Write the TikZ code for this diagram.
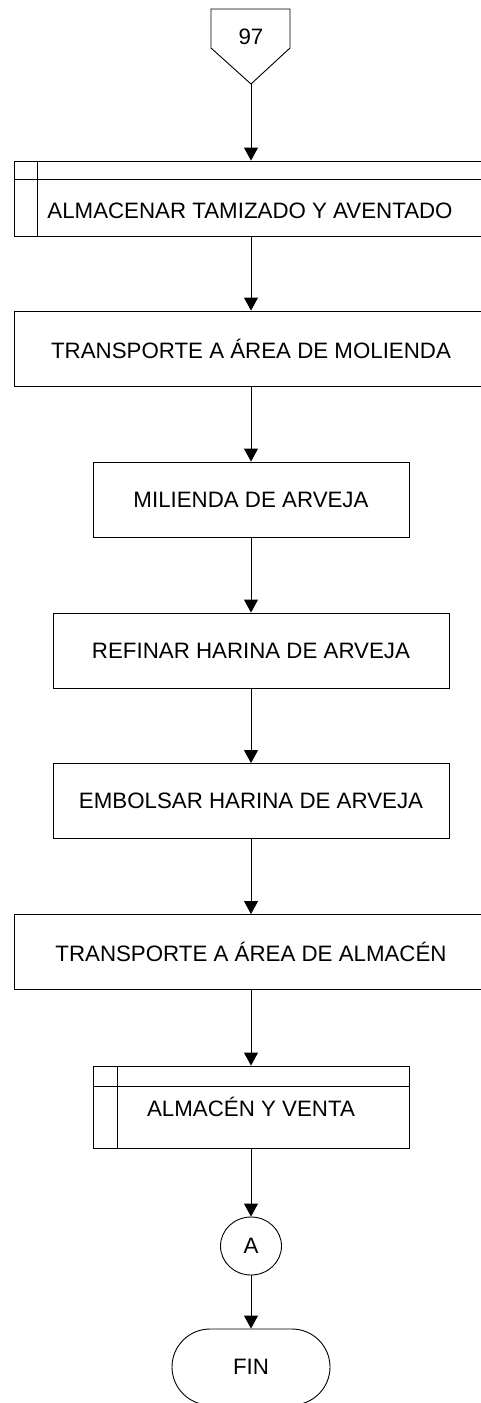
\documentclass[tikz,border=0pt]{standalone}
\usepackage{fontspec}
\setmainfont{Liberation Sans}
\usetikzlibrary{arrows.meta,shapes.geometric}
\begin{document}
\begin{tikzpicture}[x=1pt,y=-1pt,
  every node/.style={font=\fontsize{22.3}{26}\selectfont, inner sep=0pt},
  procbox/.style={draw, line width=0.9pt, rectangle},
  flow/.style={draw, line width=0.9pt, -{Triangle[width=14pt,length=13pt]}},
  conn/.style={draw, line width=0.9pt, ellipse, minimum width=61pt, minimum height=58pt},
  term/.style={draw, line width=0.9pt, rectangle, rounded corners=38pt, minimum width=158pt, minimum height=76pt}
]
\useasboundingbox (0,0) rectangle (481,1403);
\clip (0,0) rectangle (481,1403);
% off-page connector
\draw[line width=0.9pt] (211,9) -- (290,9) -- (290,48) -- (251,84) -- (211,48) -- cycle;
\coordinate (p97) at (251,84);
\node (t97) at (251,37) {97};
% box 1
\node[procbox, minimum width=474pt, minimum height=75pt] (b1) at (251,198.5) {};
\draw[line width=0.9pt] (b1.north west |- 0,179) -- (b1.north east |- 0,179);
\draw[line width=0.9pt] (37.7,0 |- b1.north) -- (37.7,0 |- b1.south);
\node (l1) at (250,211) {ALMACENAR TAMIZADO Y AVENTADO};
% box 2
\node[procbox, minimum width=474pt, minimum height=75pt] (b2) at (251,348.5) {TRANSPORTE A ÁREA DE MOLIENDA};
% box 3
\node[procbox, minimum width=316pt, minimum height=75pt] (b3) at (251,499.5) {MILIENDA DE ARVEJA};
% box 4
\node[procbox, minimum width=396pt, minimum height=75pt] (b4) at (251,650.5) {REFINAR HARINA DE ARVEJA};
% box 5
\node[procbox, minimum width=396pt, minimum height=75pt] (b5) at (251,801) {EMBOLSAR HARINA DE ARVEJA};
% box 6
\node[procbox, minimum width=474pt, minimum height=75pt] (b6) at (251,952) {TRANSPORTE A ÁREA DE ALMACÉN};
% box 7
\node[procbox, minimum width=316pt, minimum height=82pt] (b7) at (251,1107) {};
\draw[line width=0.9pt] (b7.north west |- 0,1086) -- (b7.north east |- 0,1086);
\draw[line width=0.9pt] (117,0 |- b7.north) -- (117,0 |- b7.south);
\node (l7) at (251,1107) {ALMACÉN Y VENTA};
% connector A
\node[conn] (ca) at (251,1246) {A};
% terminal
\node[term] (fin) at (251,1367) {FIN};
% arrows
\draw[flow] (p97) -- (b1.north);
\draw[flow] (b1.south) -- (b2.north);
\draw[flow] (b2.south) -- (b3.north);
\draw[flow] (b3.south) -- (b4.north);
\draw[flow] (b4.south) -- (b5.north);
\draw[flow] (b5.south) -- (b6.north);
\draw[flow] (b6.south) -- (b7.north);
\draw[flow] (b7.south) -- (ca.north);
\draw[flow] (ca.south) -- (fin.north);
\end{tikzpicture}
\end{document}
